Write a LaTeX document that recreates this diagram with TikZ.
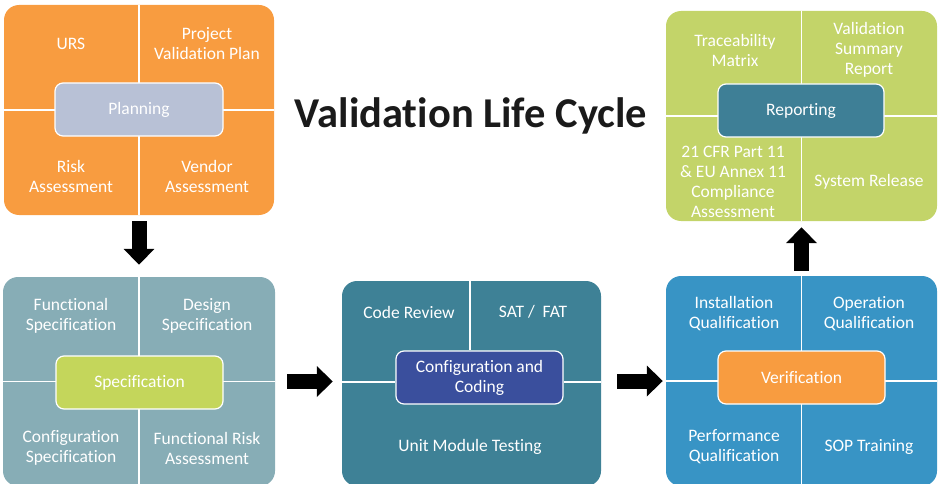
\documentclass[tikz,border=0pt]{standalone}
\usepackage{fontspec}
\setmainfont{Carlito}[Ligatures=NoCommon,Contextuals=NoAlternate]
\usetikzlibrary{arrows.meta}
\definecolor{planorange}{HTML}{F89C40}
\definecolor{plancenter}{HTML}{B8C1D6}
\definecolor{reportgreen}{HTML}{C3D469}
\definecolor{reportteal}{HTML}{3E7F96}
\definecolor{specgrey}{HTML}{87ADB6}
\definecolor{speclime}{HTML}{C4D65B}
\definecolor{confteal}{HTML}{3E8196}
\definecolor{confindigo}{HTML}{3A4F9D}
\definecolor{verifblue}{HTML}{3894C5}
\definecolor{titleblack}{HTML}{1A1A1A}
\tikzset{
  block/.style={draw=none,rounded corners=15pt,inner sep=0pt},
  hub/.style={draw=white,line width=1.2pt,rounded corners=8pt,text=white,
    font=\fontsize{17.5}{20}\selectfont,align=center,inner sep=0pt},
  divider/.style={draw=white,line width=1.2pt},
  lbl/.style={text=white,font=\fontsize{17.5}{20}\selectfont,align=center,inner sep=0pt},
  blockarrow/.style={line width=15pt,black,-{Triangle[width=30pt,length=16pt]}}
}
\begin{document}
\begin{tikzpicture}[x=1pt,y=-1pt]
\useasboundingbox (0,0) rectangle (939,484);
% planning
\node[block,fill=planorange,minimum width=270pt,minimum height=210pt](plan) at (139,110){};
\draw[divider](plan.north)--(plan.south);
\draw[divider](plan.west)--(plan.east);
\node[hub,fill=plancenter,minimum width=168pt,minimum height=53pt](planhub) at (139,109.5){Planning};
\node[lbl](urs) at (71,44){URS};
\node[lbl](pvp) at (207,44){Project\\Validation Plan};
\node[lbl](risk) at (71,176){Risk\\Assessment};
\node[lbl](vendor) at (207,176){Vendor\\Assessment};
% reporting
\node[block,fill=reportgreen,minimum width=271pt,minimum height=210pt](report) at (801.5,116){};
\draw[divider](report.north)--(report.south);
\draw[divider](report.west)--(report.east);
\node[hub,fill=reportteal,minimum width=166pt,minimum height=53pt](reporthub) at (801,110.5){Reporting};
\node[lbl](trace) at (735,50){Traceability\\Matrix};
\node[lbl](vsr) at (869,50){Validation\\Summary\\Report};
\node[lbl](cfr) at (733,182){21 CFR Part 11\\\& EU Annex 11\\Compliance\\Assessment};
\node[lbl](release) at (869,182){System Release};
% specification
\node[block,fill=specgrey,minimum width=272pt,minimum height=209pt](spec) at (139,381.5){};
\draw[divider](spec.north)--(spec.south);
\draw[divider](spec.west)--(spec.east);
\node[hub,fill=speclime,minimum width=167pt,minimum height=53pt](spechub) at (139.5,382.5){Specification};
\node[lbl](fs) at (71,316){Functional\\Specification};
\node[lbl](ds) at (207,316){Design\\Specification};
\node[lbl](cs) at (71,448){Configuration\\Specification};
\node[lbl](fra) at (207,448){Functional Risk\\Assessment};
% configuration and coding
\node[block,fill=confteal,minimum width=259pt,minimum height=205pt](conf) at (471.5,383.5){};
\node[hub,fill=confindigo,minimum width=167pt,minimum height=53pt](confhub) at (479.5,377.5){Configuration and\\Coding};
\draw[divider](conf.north -| 470,0)--(confhub.north -| 470,0);
\draw[divider](conf.west |- 0,382)--(confhub.west |- 0,382);
\draw[divider](confhub.east |- 0,382)--(conf.east |- 0,382);
\node[lbl](review) at (409,312){Code Review};
\node[lbl](satfat) at (533,312){SAT /\ \ FAT};
\node[lbl](unit) at (470,447){Unit Module Testing};
% verification
\node[block,fill=verifblue,minimum width=271pt,minimum height=210pt](verif) at (801.5,381){};
\draw[divider](verif.north)--(verif.south);
\draw[divider](verif.west)--(verif.east);
\node[hub,fill=planorange,minimum width=167pt,minimum height=53pt](verifhub) at (801.5,377.5){Verification};
\node[lbl](iq) at (734,314){Installation\\Qualification};
\node[lbl](oq) at (869,314){Operation\\Qualification};
\node[lbl](pq) at (734,447){Performance\\Qualification};
\node[lbl](sop) at (869,447){SOP Training};
% title
\node[text=titleblack,font=\fontsize{42.5}{50}\selectfont\bfseries](title) at (471,116){Validation Life Cycle};
% arrows
\draw[blockarrow,shorten <=6pt,shorten >=12pt](plan.south)--(spec.north);
\draw[blockarrow,shorten <=12pt,shorten >=9pt](spec.east)--(spec.east -| conf.west);
\draw[blockarrow,shorten <=16pt,shorten >=3pt](conf.east |- verif.west)--(verif.west);
\draw[blockarrow,shorten <=5pt,shorten >=6pt](verif.north)--(report.south);
\end{tikzpicture}
\end{document}
